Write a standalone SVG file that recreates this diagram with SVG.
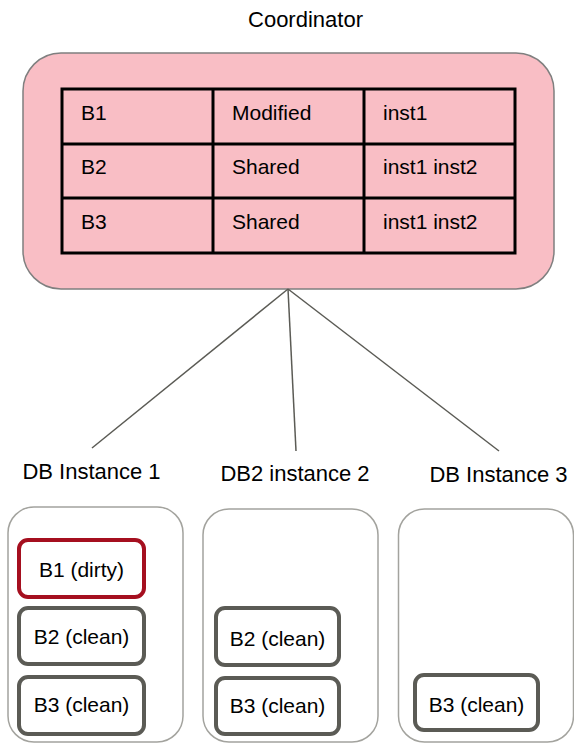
<svg xmlns="http://www.w3.org/2000/svg" width="574" height="745" viewBox="0 0 574 745">
<style>
text{font-family:"Liberation Sans",Arial,sans-serif;font-size:21px;fill:#000}
.mid{text-anchor:middle}
.lbl{font-size:22px}
.inst{fill:#fff;stroke:#a3a39e;stroke-width:1.5}
.blk{fill:#fff;stroke:#5b5b55;stroke-width:4}
.dirty{fill:#fff;stroke:#a50f1f;stroke-width:4}
.cell{fill:none;stroke:#000;stroke-width:3}
.conn{stroke:#5b5b55;stroke-width:1.5;fill:none}
</style>
<rect width="574" height="745" fill="#fff"/>
<g id="coordinator">
<text class="mid lbl" x="305.5" y="27">Coordinator</text>
<rect x="23" y="53" width="531" height="236" rx="38" ry="38" fill="#f9bec5" stroke="#7f7f7f" stroke-width="1.5"/>
<rect class="cell" x="62" y="89" width="453" height="164"/>
<line class="cell" x1="62" y1="144" x2="515" y2="144"/>
<line class="cell" x1="62" y1="198" x2="515" y2="198"/>
<line class="cell" x1="213" y1="89" x2="213" y2="253"/>
<line class="cell" x1="364" y1="89" x2="364" y2="253"/>
<text x="81" y="120">B1</text>
<text x="232" y="120">Modified</text>
<text x="383" y="120">inst1</text>
<text x="81" y="174">B2</text>
<text x="232" y="174">Shared</text>
<text x="383" y="174">inst1 inst2</text>
<text x="81" y="229">B3</text>
<text x="232" y="229">Shared</text>
<text x="383" y="229">inst1 inst2</text>
</g>
<g id="connectors">
<line class="conn" x1="288" y1="289" x2="92" y2="448"/>
<line class="conn" x1="288" y1="289" x2="296" y2="451"/>
<line class="conn" x1="288" y1="289" x2="499" y2="451"/>
</g>
<g id="instance1">
<text class="mid lbl" x="91.5" y="479">DB Instance 1</text>
<rect class="inst" x="8" y="507" width="175" height="235" rx="26" ry="26"/>
<g id="inst1-b1">
<rect class="dirty" x="19" y="540" width="125" height="57" rx="9" ry="9"/>
<text class="mid" x="81.5" y="577">B1 (dirty)</text>
</g>
<g id="inst1-b2">
<rect class="blk" x="19" y="608" width="125" height="56" rx="9" ry="9"/>
<text class="mid" x="81.5" y="644">B2 (clean)</text>
</g>
<g id="inst1-b3">
<rect class="blk" x="19" y="677" width="125" height="57" rx="9" ry="9"/>
<text class="mid" x="81.5" y="712">B3 (clean)</text>
</g>
</g>
<g id="instance2">
<text class="mid lbl" x="295" y="481">DB2 instance 2</text>
<rect class="inst" x="203" y="509" width="175" height="233" rx="26" ry="26"/>
<g id="inst2-b2">
<rect class="blk" x="216" y="608" width="123" height="57" rx="9" ry="9"/>
<text class="mid" x="277.5" y="646">B2 (clean)</text>
</g>
<g id="inst2-b3">
<rect class="blk" x="216" y="678" width="123" height="56" rx="9" ry="9"/>
<text class="mid" x="277.5" y="713">B3 (clean)</text>
</g>
</g>
<g id="instance3">
<text class="mid lbl" x="498.5" y="482">DB Instance 3</text>
<rect class="inst" x="398.5" y="509" width="175" height="233" rx="26" ry="26"/>
<g id="inst3-b3">
<rect class="blk" x="415" y="675" width="123" height="55" rx="9" ry="9"/>
<text class="mid" x="476.5" y="712">B3 (clean)</text>
</g>
</g>
</svg>
